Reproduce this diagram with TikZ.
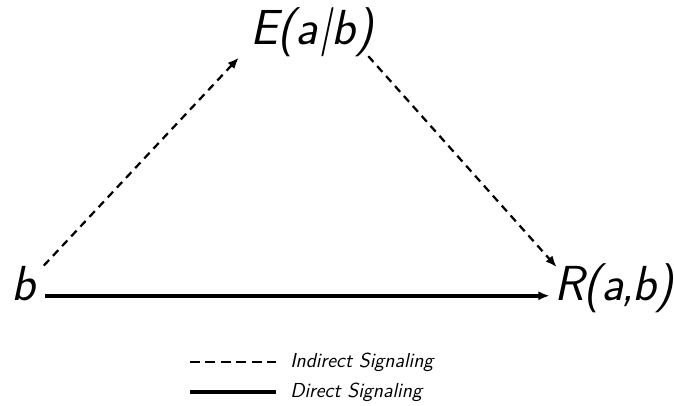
\documentclass[tikz,border=0pt]{standalone}
\usepackage{tikz}
\usetikzlibrary{positioning,arrows.meta}

\begin{document}
\begin{tikzpicture}[
    every node/.style={font=\sffamily\itshape},
    lbl/.style={inner sep=3pt, font=\sffamily\itshape\fontsize{35}{40}\selectfont},
    legtxt/.style={anchor=west, inner sep=0pt, font=\sffamily\itshape\fontsize{14.4}{17}\selectfont},
    indirect/.style={-{Latex[length=8pt,width=6.5pt]}, line width=1.6pt, dash pattern=on 5.5pt off 4pt},
    direct/.style={-{Latex[length=8pt,width=6.5pt]}, line width=2.6pt}]
  \useasboundingbox (0,0) rectangle (16.85,10.125);
  % the three quantities
  \node[lbl, anchor=base] (E) at (7.8,9.0)    {E(a|b)};
  \node[lbl, anchor=base] (b) at (0.58,2.625)  {b};
  \node[lbl, anchor=base] (R) at (15.35,2.625) {R(a\kern-2pt,\kern-1.5pt b)};
  \draw[indirect] ([shift={(3pt,-3pt)}]b.north east) -- ([shift={(-5pt,3pt)}]E.south west);
  \draw[indirect] ([shift={(-7pt,4pt)}]E.south east) -- ([shift={(5pt,-6pt)}]R.north west);
  \draw[direct] ([shift={(4pt,3pt)}]b.base east) -- ([yshift=3pt]R.base west);
  % legend
  \coordinate (ia) at (4.75,1.075);
  \coordinate (ib) at (6.9,1.075);
  \coordinate (da) at (4.75,0.325);
  \coordinate (db) at (6.9,0.325);
  \draw[line width=1.8pt, dash pattern=on 7pt off 4pt] (ia) -- (ib);
  \draw[line width=2.8pt] (da) -- (db);
  \node[legtxt, right=0.35cm of ib] (itxt) {Indirect Signaling};
  \node[legtxt, right=0.35cm of db] (dtxt) {Direct Signaling};
\end{tikzpicture}
\end{document}
